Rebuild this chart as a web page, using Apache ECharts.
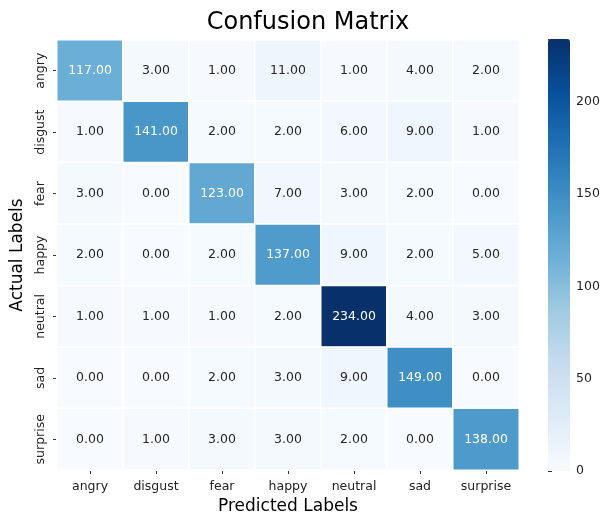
<!DOCTYPE html>
<html>
<head>
<meta charset="utf-8">
<script src="https://cdn.jsdelivr.net/npm/echarts@6/dist/echarts.min.js"></script>
<style>html,body{margin:0;padding:0;background:#fff;}#c{width:603px;height:516px;}</style>
</head>
<body>
<div id="c"></div>
<script>
const labels = ['angry','disgust','fear','happy','neutral','sad','surprise'];
const rowAngry    = [117, 3, 1, 11, 1, 4, 2];
const rowDisgust  = [1, 141, 2, 2, 6, 9, 1];
const rowFear     = [3, 0, 123, 7, 3, 2, 0];
const rowHappy    = [2, 0, 2, 137, 9, 2, 5];
const rowNeutral  = [1, 1, 1, 2, 234, 4, 3];
const rowSad      = [0, 0, 2, 3, 9, 149, 0];
const rowSurprise = [0, 1, 3, 3, 2, 0, 138];
const colorbarTicks = [0, 50, 100, 150, 200];

const rows = [rowAngry, rowDisgust, rowFear, rowHappy, rowNeutral, rowSad, rowSurprise];
const vmax = Math.max(...rows.flat());
const data = [];
rows.forEach((r, i) => r.forEach((v, j) => {
  data.push({value: [j, i, v], label: {color: v / vmax > 0.45 ? '#ffffff' : '#262626'}});
}));

const FONT = 'DejaVu Sans';
const chart = echarts.init(document.getElementById('c'), null, {renderer: 'canvas'});
chart.setOption({
  backgroundColor: '#ffffff',
  textStyle: {fontFamily: FONT},
  animation: false,
  title: {
    text: 'Confusion Matrix', left: 303, top: 6, textAlign: 'center',
    textStyle: {fontFamily: FONT, fontSize: 24, fontWeight: 'normal', color: '#000'}
  },
  grid: [
    {left: 57, right: 84, top: 40, bottom: 46, containLabel: false, outerBoundsMode: 'none'},
    {left: 548, width: 22, top: 39, height: 432, containLabel: false, outerBoundsMode: 'none'}
  ],
  xAxis: [
    {
      type: 'category', data: labels, gridIndex: 0,
      name: 'Predicted Labels', nameLocation: 'middle', nameGap: 28,
      nameTextStyle: {fontFamily: FONT, fontSize: 17, color: '#000'},
      axisLine: {show: false},
      axisTick: {show: true, alignWithLabel: true, interval: 0, length: 4, lineStyle: {color: '#333'}},
      axisLabel: {fontFamily: FONT, fontSize: 12.5, color: '#222', margin: 10, interval: 0},
      splitLine: {show: false}
    },
    {type: 'value', gridIndex: 1, show: false, min: 0, max: 1}
  ],
  yAxis: [
    {
      type: 'category', data: labels, gridIndex: 0, inverse: true,
      name: 'Actual Labels', nameLocation: 'middle', nameGap: 29, nameRotate: 90,
      nameTextStyle: {fontFamily: FONT, fontSize: 17, color: '#000'},
      axisLine: {show: false},
      axisTick: {show: true, alignWithLabel: true, interval: 0, length: 4, lineStyle: {color: '#333'}},
      axisLabel: {fontFamily: FONT, fontSize: 12.5, color: '#222', rotate: 90, margin: 10, interval: 0},
      splitLine: {show: false}
    },
    {
      type: 'value', gridIndex: 1, position: 'right', min: 0, max: vmax, interval: 50,
      axisLine: {show: false},
      axisTick: {show: true, length: 4, inside: false, lineStyle: {color: '#333'}},
      axisLabel: {fontFamily: FONT, fontSize: 12.5, color: '#222', margin: 6,
        formatter: v => colorbarTicks.includes(v) ? String(v) : ''},
      splitLine: {show: false}
    }
  ],
  visualMap: {
    type: 'continuous', min: 0, max: vmax, dimension: 2, seriesIndex: 0,
    calculable: false, show: true, left: 548, top: 39, itemWidth: 22, itemHeight: 432,
    padding: 0, text: null, showLabel: false,
    inRange: {color: ['#f7fbff','#deebf7','#c6dbef','#9ecae1','#6baed6','#4292c6','#2171b5','#08519c','#08306b']}
  },
  series: [{
    type: 'heatmap', xAxisIndex: 0, yAxisIndex: 0, data: data,
    itemStyle: {borderColor: '#ffffff', borderWidth: 1.5},
    label: {show: true, fontFamily: FONT, fontSize: 12.5, formatter: p => p.value[2].toFixed(2)},
    emphasis: {disabled: true}
  }]
});
</script>
</body>
</html>
